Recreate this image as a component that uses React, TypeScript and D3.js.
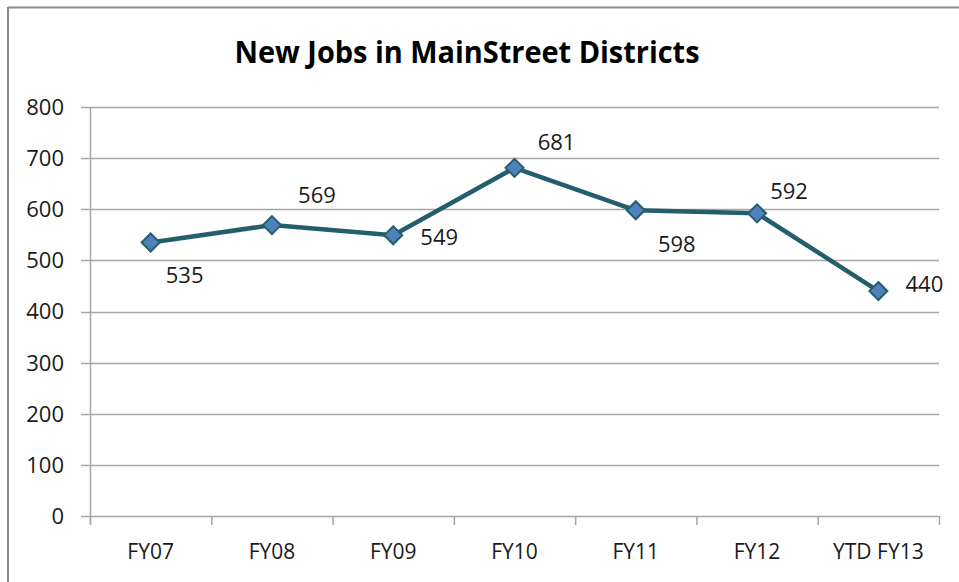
import React from "react";
import * as d3 from "d3";

const categories = ["FY07", "FY08", "FY09", "FY10", "FY11", "FY12", "YTD FY13"];
const jobs = [535, 569, 549, 681, 598, 592, 440];
const yTicks = [0, 100, 200, 300, 400, 500, 600, 700, 800];
const labelDx = [34, 45, 46, 42, 41, 32, 46];
const labelDy = [33, -30, 2, -26, 34, -22, -7];

const W = 959;
const H = 582;
const left = 90;
const right = 939;
const top = 107;
const bottom = 516;
const font = "'Open Sans', 'Liberation Sans', sans-serif";

export default function App() {
  const x = d3.scaleBand<string>().domain(categories).range([left, right]).padding(0);
  const y = d3.scaleLinear().domain([0, 800]).range([bottom, top]);
  const cx = (c: string) => (x(c) as number) + x.bandwidth() / 2;
  const line = d3
    .line<number>()
    .x((_, i) => cx(categories[i]))
    .y((d) => y(d));
  const r = 9;
  const boundaries = d3.range(categories.length + 1).map((i) => left + i * x.bandwidth());

  return (
    <svg
      width={W}
      height={H}
      style={{ position: "absolute", left: 0, top: 0, background: "#fff" }}
      fontFamily={font}
    >
      <rect x={0} y={0} width={W} height={H} fill="#fff" />
      <line x1={8} y1={7.5} x2={W} y2={7.5} stroke="#8c8c8c" strokeWidth={2} />
      <line x1={8} y1={7} x2={8} y2={H} stroke="#8c8c8c" strokeWidth={2} />
      <text
        x={467}
        y={63}
        textAnchor="middle"
        fontSize={30}
        fontWeight="bold"
        fill="#000"
        textLength={465}
        lengthAdjust="spacingAndGlyphs"
      >
        New Jobs in MainStreet Districts
      </text>
      {yTicks.map((t) => (
        <g key={t}>
          <line x1={81} x2={right} y1={Math.round(y(t)) + 0.5} y2={Math.round(y(t)) + 0.5} stroke="#a6a6a6" strokeWidth={1.5} />
          <text x={64} y={y(t)} dy="0.36em" textAnchor="end" fontSize={22} fill="#1a1a1a">
            {t}
          </text>
        </g>
      ))}
      <line x1={left + 0.5} x2={left + 0.5} y1={top} y2={bottom + 9} stroke="#a6a6a6" strokeWidth={1.5} />
      {boundaries.map((b, i) => (
        <line key={i} x1={b + 0.5} x2={b + 0.5} y1={bottom} y2={bottom + 9} stroke="#a6a6a6" strokeWidth={1.5} />
      ))}
      {categories.map((c) => (
        <text key={c} x={cx(c)} y={559} textAnchor="middle" fontSize={21} fill="#1a1a1a">
          {c}
        </text>
      ))}
      <path d={line(jobs) as string} fill="none" stroke="#245e6d" strokeWidth={4.5} strokeLinejoin="round" />
      {jobs.map((v, i) => {
        const px = cx(categories[i]);
        const py = y(v);
        return (
          <path
            key={i}
            d={`M${px},${py - r}L${px + r},${py}L${px},${py + r}L${px - r},${py}Z`}
            fill="#4f81bd"
            stroke="#245e6d"
            strokeWidth={2}
          />
        );
      })}
      {jobs.map((v, i) => (
        <text
          key={"l" + i}
          x={cx(categories[i]) + labelDx[i]}
          y={y(v) + labelDy[i]}
          dy="0.36em"
          textAnchor="middle"
          fontSize={22}
          fill="#1a1a1a"
        >
          {v}
        </text>
      ))}
    </svg>
  );
}
